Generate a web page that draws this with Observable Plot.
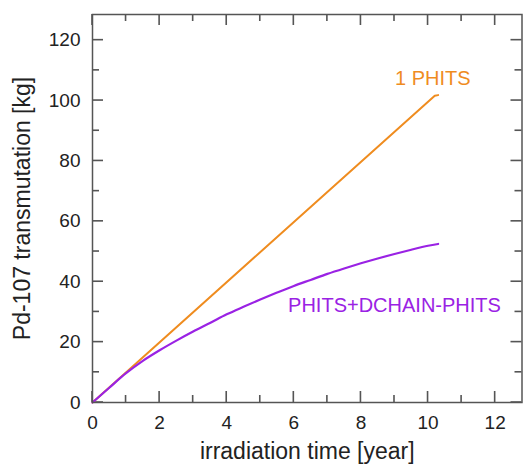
<!DOCTYPE html>
<html>
<head>
<meta charset="utf-8">
<script src="https://cdn.jsdelivr.net/npm/d3@7"></script>
<script src="https://cdn.jsdelivr.net/npm/@observablehq/plot@0.6"></script>
<style>
  html, body { margin: 0; padding: 0; background: #fff; }
  svg { display: block; background: #fff; }
</style>
</head>
<body>
<div id="chart"></div>
<script>
// Series: "1 PHITS" (orange, straight line)
const phitsTime = [0, 10.1, 10.2, 10.3];
const phitsMass = [0, 100.6, 101.6, 101.8];

// Series: "PHITS+DCHAIN-PHITS" (purple, saturating curve)
const dchainTime = [0, 0.5, 1, 1.5, 2, 2.5, 3, 3.5, 4, 4.5, 5, 5.5, 6, 6.5, 7, 7.5, 8, 8.5, 9, 9.5, 10, 10.3];
const dchainMass = [0, 4.9, 9.7, 13.8, 17.3, 20.5, 23.5, 26.3, 29.2, 31.7, 34.1, 36.4, 38.6, 40.6, 42.6, 44.4, 46.1, 47.7, 49.2, 50.6, 51.9, 52.5];

// Series labels and where they sit (data coordinates)
const seriesNames = ["1 PHITS", "PHITS+DCHAIN-PHITS"];
const labelTime = [10.14, 9.0];
const labelMass = [107.3, 32.1];

// Axis ticks
const xMajor = [0, 2, 4, 6, 8, 10, 12];
const xMinor = [1, 3, 5, 7, 9, 11];
const yMajor = [0, 20, 40, 60, 80, 100, 120];
const yMinor = [10, 30, 50, 70, 90, 110];

const xTitle = "irradiation time [year]";
const yTitle = "Pd-107 transmutation [kg]";

const ORANGE = "#ef8c1f";
const PURPLE = "#9a22e4";
const AXIS = "#555";

const W = 523, H = 465, ML = 92, MR = 1.5, MT = 14, MB = 63;
const PW = W - ML - MR, PH = H - MT - MB;
const MAJ = 11, MIN = 7, HALF = 0.8;

const phits = phitsTime.map((t, i) => ({t, m: phitsMass[i]}));
const dchain = dchainTime.map((t, i) => ({t, m: dchainMass[i]}));
const labels = seriesNames.map((name, i) => ({name, t: labelTime[i], m: labelMass[i], color: i === 0 ? ORANGE : PURPLE}));

// inward ticks drawn as thin filled rects (zero-width in data, widened by negative pixel insets)
const xTicks = (values, side, size) => Plot.rect(values, {
  x1: (d) => d, x2: (d) => d, fill: AXIS,
  insetLeft: -HALF, insetRight: -HALF,
  [side === "bottom" ? "insetTop" : "insetBottom"]: PH - size
});
const yTicks = (values, side, size) => Plot.rect(values, {
  y1: (d) => d, y2: (d) => d, fill: AXIS,
  insetTop: -HALF, insetBottom: -HALF,
  [side === "left" ? "insetRight" : "insetLeft"]: PW - size
});

const chart = Plot.plot({
  width: W,
  height: H,
  marginLeft: ML,
  marginRight: MR,
  marginTop: MT,
  marginBottom: MB,
  style: {fontFamily: "'Liberation Sans', Arial, Helvetica, sans-serif"},
  x: {domain: [0, 12.8]},
  y: {domain: [0, 128.5]},
  marks: [
    xTicks(xMajor, "bottom", MAJ),
    xTicks(xMinor, "bottom", MIN),
    xTicks(xMajor, "top", MAJ),
    xTicks(xMinor, "top", MIN),
    yTicks(yMajor, "left", MAJ),
    yTicks(yMinor, "left", MIN),
    yTicks(yMajor, "right", MAJ),
    yTicks(yMinor, "right", MIN),
    Plot.line(phits, {x: "t", y: "m", stroke: ORANGE, strokeWidth: 2}),
    Plot.line(dchain, {x: "t", y: "m", stroke: PURPLE, strokeWidth: 2.2, curve: "catmull-rom"}),
    Plot.axisX({anchor: "bottom", ticks: xMajor, tickSize: 0, tickPadding: 13, fontSize: 19, label: null, fill: "#222"}),
    Plot.axisY({anchor: "left", ticks: yMajor, tickSize: 0, tickPadding: 12, fontSize: 19, label: null, fill: "#222"}),
    Plot.frame({stroke: AXIS, strokeWidth: 1.5}),
    Plot.text(labels, {x: "t", y: "m", text: "name", fill: "color", fontSize: 20}),
    Plot.text([xTitle], {frameAnchor: "bottom", textAnchor: "middle", lineAnchor: "middle", dy: 49, fontSize: 23, fill: "#222"}),
    Plot.text([yTitle], {frameAnchor: "left", textAnchor: "middle", lineAnchor: "middle", dx: -70, rotate: -90, fontSize: 23, fill: "#222"})
  ]
});
document.getElementById("chart").appendChild(chart);
</script>
</body>
</html>
